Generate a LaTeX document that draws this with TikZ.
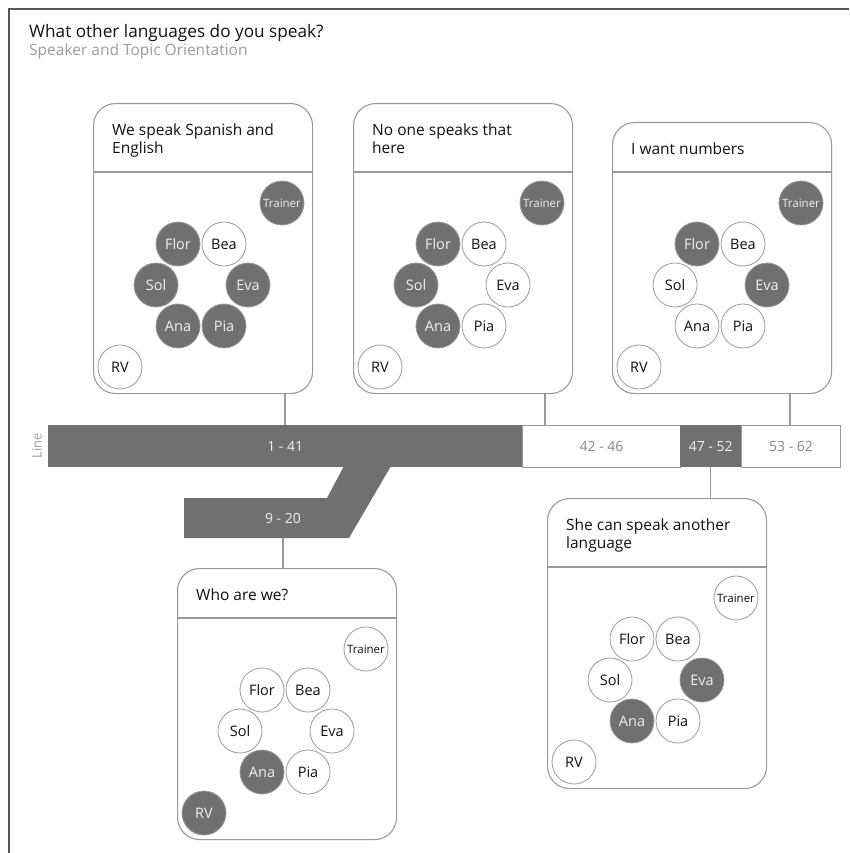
\documentclass[tikz,border=0pt]{standalone}
\usepackage{fontspec}
\setmainfont{Open Sans}
\definecolor{dk}{HTML}{707070}
\definecolor{lnc}{HTML}{9A9A9A}
\definecolor{txd}{HTML}{111111}
\definecolor{txl}{HTML}{F0F0F0}
\definecolor{subc}{HTML}{9C9C9C}
\definecolor{barc}{HTML}{888888}
\definecolor{framec}{HTML}{555555}
\newcommand{\spkbody}[8]{%
  \node[#1, font=\fontsize{11.5}{12}\selectfont] (trainer) at (189,31) {Trainer};
  \node[#2] (flor) at (85,72) {Flor};
  \node[#3] (bea) at (131,72) {Bea};
  \node[#4] (sol) at (63,113) {Sol};
  \node[#5] (eva) at (155,113) {Eva};
  \node[#6] (ana) at (85,154) {Ana};
  \node[#7] (pia) at (131,154) {Pia};
  \node[#8] (rv) at (27,195) {RV};
}
\begin{document}
\begin{tikzpicture}[x=1pt,y=-1pt,
  pers/.style={circle, draw=lnc, line width=0.8pt, minimum size=44pt, inner sep=0pt,
    font=\fontsize{14.5}{14}\selectfont},
  on/.style={pers, fill=dk, text=txl},
  off/.style={pers, fill=white, text=txd},
  panelbox/.style={draw=lnc, line width=1.1pt, rounded corners=22pt, minimum width=219pt,
    anchor=north west, inner sep=0pt},
  divline/.style={draw=lnc, line width=1.1pt},
  ptitle/.style={anchor=north west, inner sep=0pt, align=left, text=txd,
    font=\fontsize{15.5}{18}\selectfont},
  conn/.style={draw=lnc, line width=1.1pt},
  cell/.style={minimum height=42pt, inner sep=0pt, anchor=north west,
    font=\fontsize{14}{14}\selectfont},
  darkcell/.style={cell, fill=dk, text=txl},
  whitecell/.style={cell, fill=white, draw=lnc, line width=1pt, text=barc},
]
\useasboundingbox (0,0) rectangle (849,853);
% frame
\draw[framec, line width=1.5pt] (9,853) -- (9,9) -- (849,9);
% title
\node[anchor=base west, inner sep=0pt, text=txd, font=\fontsize{17.2}{18}\selectfont] (title) at (29,38) {What other languages do you speak?};
\node[anchor=base west, inner sep=0pt, text=subc, font=\fontsize{15.5}{18}\selectfont] (subtitle) at (29,56) {Speaker and Topic Orientation};

% timeline bar
\fill[dk] (184,498) -- (327,498) -- (344,466) -- (391,466) -- (349,538) -- (184,538) -- cycle;
\node[darkcell, minimum width=474pt] (b1) at (48,425) {1 - 41};
\node[whitecell, minimum width=158pt] (b2) at (522,425) {42 - 46};
\node[darkcell, minimum width=61pt] (b3) at (680,425) {47 - 52};
\node[whitecell, minimum width=99pt] (b4) at (741,425) {53 - 62};
\node[inner sep=0pt, text=txl, font=\fontsize{14}{14}\selectfont] (b920) at (283,518) {9 - 20};
\coordinate (b920s) at (283,538);
\node[rotate=90, inner sep=0pt, text=subc, font=\fontsize{13}{13}\selectfont] (linelbl) at (37,446) {Line};

% panel 1
\node[panelbox, minimum height=290pt] (p1) at (93,103) {};
\draw[divline] (p1.west |- 0,172) -- (p1.east |- 0,172);
\node[ptitle] (p1t) at (112,124) {We speak Spanish and\\English};
\begin{scope}[shift={(93,172)}, name prefix=p1-]
  \spkbody{on}{on}{off}{on}{on}{on}{on}{off}
\end{scope}
% panel 2
\node[panelbox, minimum height=290pt] (p2) at (353,103) {};
\draw[divline] (p2.west |- 0,172) -- (p2.east |- 0,172);
\node[ptitle] (p2t) at (372,124) {No one speaks that\\here};
\begin{scope}[shift={(353,172)}, name prefix=p2-]
  \spkbody{on}{on}{off}{on}{off}{on}{off}{off}
\end{scope}
% panel 3
\node[panelbox, minimum height=271pt] (p3) at (612,122) {};
\draw[divline] (p3.west |- 0,172) -- (p3.east |- 0,172);
\node[ptitle] (p3t) at (631,143) {I want numbers};
\begin{scope}[shift={(612,172)}, name prefix=p3-]
  \spkbody{on}{on}{off}{off}{on}{off}{off}{off}
\end{scope}
% panel 4
\node[panelbox, minimum height=271pt] (p4) at (177,568) {};
\draw[divline] (p4.west |- 0,618) -- (p4.east |- 0,618);
\node[ptitle] (p4t) at (196,589) {Who are we?};
\begin{scope}[shift={(177,618)}, name prefix=p4-]
  \spkbody{off}{off}{off}{off}{off}{on}{off}{on}
\end{scope}
% panel 5
\node[panelbox, minimum height=290pt] (p5) at (547,498) {};
\draw[divline] (p5.west |- 0,567) -- (p5.east |- 0,567);
\node[ptitle] (p5t) at (566,519) {She can speak another\\language};
\begin{scope}[shift={(547,567)}, name prefix=p5-]
  \spkbody{off}{off}{off}{off}{on}{on}{off}{off}
\end{scope}

% connectors
\draw[conn] (p1.south -| 285,0) -- (b1.north -| 285,0);
\draw[conn] (p2.south -| 545,0) -- (b2.north -| 545,0);
\draw[conn] (p3.south -| 790,0) -- (b4.north -| 790,0);
\draw[conn] (b920s) -- (b920s |- p4.north);
\draw[conn] (b3.south) -- (b3.south |- p5.north);
\end{tikzpicture}
\end{document}
